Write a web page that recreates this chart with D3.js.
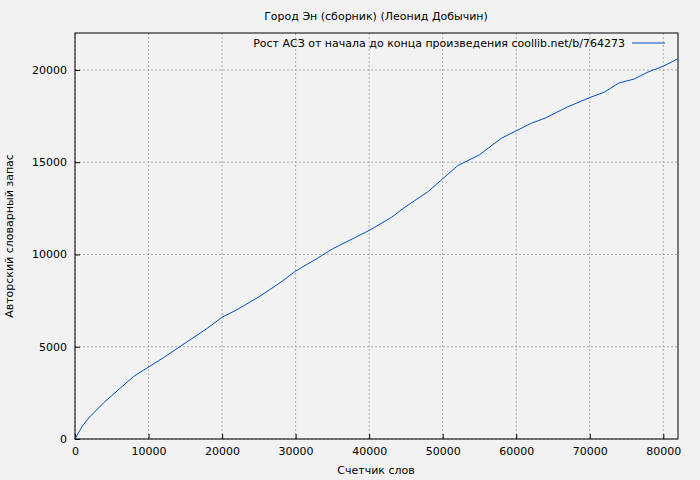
<!DOCTYPE html>
<html><head><meta charset="utf-8">
<script src="https://cdn.jsdelivr.net/npm/d3@7"></script>
<style>body{margin:0;background:#f2f2f2}svg{font-family:"DejaVu Sans",sans-serif}</style>
</head><body><svg id="c" width="700" height="480"></svg>
<script>
const words=[0,1000,2000,4000,6000,8000,10000,12000,15000,18000,20000,22000,25000,28000,30000,33000,35000,38000,40000,43000,45000,48000,50000,52000,55000,58000,60000,62000,64000,67000,70000,72000,74000,76000,78000,80000,82000];
const vocab=[0,700,1200,2000,2700,3400,3900,4400,5200,6000,6600,7000,7700,8500,9100,9800,10300,10900,11300,12000,12600,13400,14100,14800,15400,16300,16700,17100,17400,18000,18500,18800,19300,19500,19900,20200,20600];
const xTicks=[0,10000,20000,30000,40000,50000,60000,70000,80000];
const yTicks=[0,5000,10000,15000,20000];
const svg=d3.select("#c");
const L=75,R=678,T=33,B=439;
const x=d3.scaleLinear().domain([0,82000]).range([L,R]);
const y=d3.scaleLinear().domain([0,22000]).range([B,T]);
svg.append("rect").attr("width",700).attr("height",480).attr("fill","#f2f2f2");
const g=svg.append("g");
xTicks.forEach(t=>g.append("line").attr("x1",x(t)).attr("x2",x(t)).attr("y1",T).attr("y2",B).attr("stroke","#999").attr("stroke-dasharray","2,2").attr("stroke-width",0.8));
yTicks.forEach(t=>g.append("line").attr("x1",L).attr("x2",R).attr("y1",y(t)).attr("y2",y(t)).attr("stroke","#999").attr("stroke-dasharray","2,2").attr("stroke-width",0.8));
svg.append("g").attr("transform",`translate(0,${B})`).call(d3.axisBottom(x).tickValues(xTicks).tickSize(-5).tickPadding(8).tickFormat(d3.format("d"))).call(a=>{a.select(".domain").remove();a.selectAll("text").attr("font-size",11).attr("font-family","DejaVu Sans");});
svg.append("g").attr("transform",`translate(${L},0)`).call(d3.axisLeft(y).tickValues(yTicks).tickSize(-5).tickPadding(8).tickFormat(d3.format("d"))).call(a=>{a.select(".domain").remove();a.selectAll("text").attr("font-size",11).attr("font-family","DejaVu Sans");});
svg.append("rect").attr("x",L).attr("y",T).attr("width",R-L).attr("height",B-T).attr("fill","none").attr("stroke","#000");
svg.append("path").datum(words.map((w,i)=>[w,vocab[i]])).attr("d",d3.line().x(d=>x(d[0])).y(d=>y(d[1]))).attr("fill","none").attr("stroke","#0050c0").attr("stroke-width",1);
svg.append("text").attr("x",376).attr("y",20).attr("text-anchor","middle").attr("font-size",11).text("Город Эн (сборник) (Леонид Добычин)");
svg.append("text").attr("x",376).attr("y",474).attr("text-anchor","middle").attr("font-size",11).text("Счетчик слов");
svg.append("text").attr("transform","translate(13,236) rotate(-90)").attr("text-anchor","middle").attr("font-size",11).text("Авторский словарный запас");
svg.append("text").attr("x",625).attr("y",47).attr("text-anchor","end").attr("font-size",11).text("Рост АСЗ от начала до конца произведения coollib.net/b/764273");
svg.append("line").attr("x1",632).attr("x2",665).attr("y1",43).attr("y2",43).attr("stroke","#0050c0");
</script></body></html>
